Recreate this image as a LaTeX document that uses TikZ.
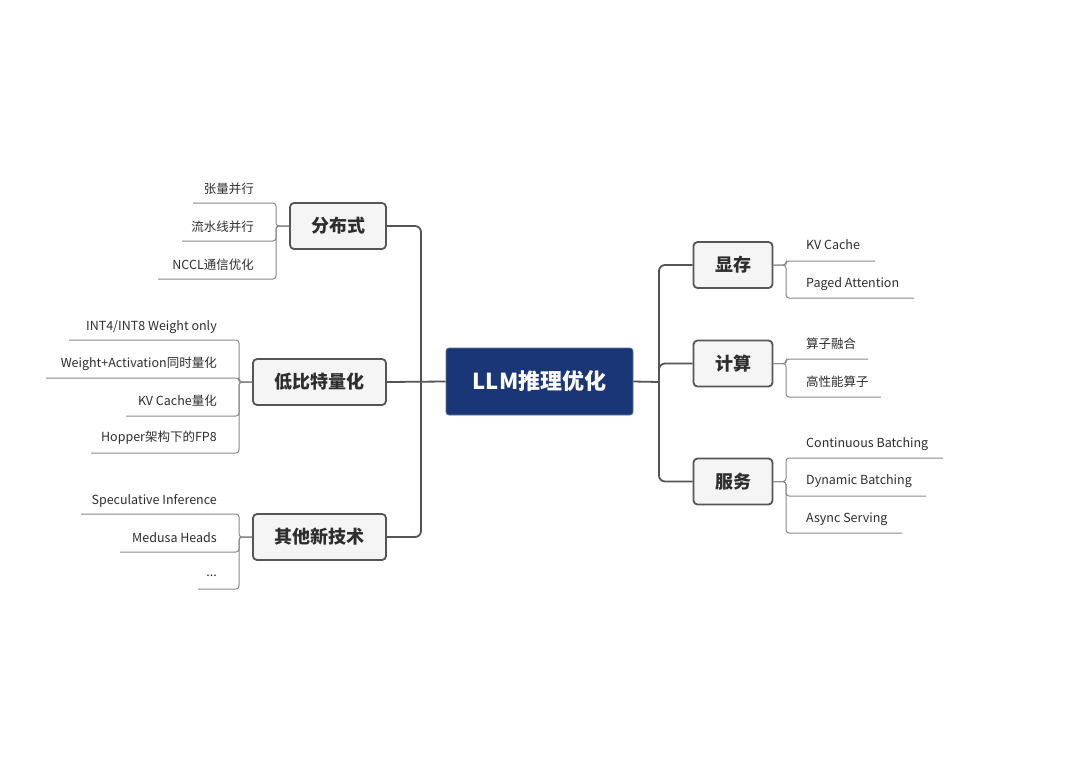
\documentclass[tikz,border=0pt]{standalone}
\usepackage{fontspec}
\setmainfont{Noto Sans CJK SC}
\definecolor{rootblue}{HTML}{1A3677}
\definecolor{boxline}{HTML}{555555}
\definecolor{boxfill}{HTML}{F5F5F5}
\definecolor{leafgray}{HTML}{8A8A8A}
\definecolor{textcol}{HTML}{2E2E2E}
\begin{document}
\begin{tikzpicture}[x=1pt,y=-1pt,
 root/.style={draw=rootblue!70!white, fill=rootblue, rounded corners=3pt, text=white,
   font=\fontsize{22}{26}\selectfont\bfseries, minimum width=187pt, minimum height=67pt, line width=0.8pt, inner sep=0pt},
 branch/.style={draw=boxline, fill=boxfill, rounded corners=4pt, line width=1.8pt,
   font=\fontsize{18}{22}\selectfont\bfseries, minimum height=46pt, text=textcol, inner sep=0pt},
 leaf/.style={font=\fontsize{12.5}{15}\selectfont, text=textcol, inner sep=0pt},
 mainline/.style={draw=boxline, line width=1.8pt, rounded corners=6pt},
 leafline/.style={draw=leafgray, line width=1pt, rounded corners=3pt},
]
\useasboundingbox[fill=white] (0,0) rectangle (1080,764);

% root and branches
\node[root] (root) at (539.5,381.5) {LLM推理优化};
\node[branch, minimum width=96pt] (fb) at (338,226) {分布式};
\node[branch, minimum width=133pt] (db) at (319.5,382) {低比特量化};
\node[branch, minimum width=133pt] (qt) at (319.5,537) {其他新技术};
\node[branch, minimum width=79pt] (xc) at (733,265) {显存};
\node[branch, minimum width=79pt] (js) at (733,363.5) {计算};
\node[branch, minimum width=79pt] (fw) at (733,481.5) {服务};

% main connectors
\coordinate (ls) at (421,382);
\coordinate (rs) at (659,382);
\draw[mainline] (root.west) -- (db.east);
\draw[mainline] (fb.east) -| (ls) |- (qt.east);
\draw[mainline] (root.east) -- (rs);
\draw[mainline] (xc.west) -| (rs) |- (fw.west);
\draw[mainline] (rs) |- (js.west);

% ---- 分布式 leaves
\coordinate (fbj) at (276,226);
\node[leaf, anchor=east] (f1) at (254,189) {张量并行};
\node[leaf, anchor=east] (f2) at (254,227) {流水线并行};
\node[leaf, anchor=east] (f3) at (254,265) {NCCL通信优化};
\coordinate (f1u) at (193,203);
\coordinate (f2u) at (182,241);
\coordinate (f3u) at (158,279);
\draw[leafline] (fb.west) -- (fbj) |- (f1u);
\draw[leafline] (fb.west) -- (fbj) |- (f2u);
\draw[leafline] (fb.west) -- (fbj) |- (f3u);

% ---- 低比特量化 leaves
\coordinate (dbj) at (239,382);
\node[leaf, anchor=east] (d1) at (217,327) {INT4/INT8 Weight only};
\node[leaf, anchor=east] (d2) at (217,364) {Weight+Activation同时量化};
\node[leaf, anchor=east] (d3) at (217,401) {KV Cache量化};
\node[leaf, anchor=east] (d4) at (217,438) {Hopper架构下的FP8};
\coordinate (d1u) at (69,340);
\coordinate (d2u) at (46,378);
\coordinate (d3u) at (126,416);
\coordinate (d4u) at (91,453);
\draw[leafline] (db.west) -- (dbj) |- (d1u);
\draw[leafline] (db.west) -- (dbj) |- (d2u);
\draw[leafline] (db.west) -- (dbj) |- (d3u);
\draw[leafline] (db.west) -- (dbj) |- (d4u);

% ---- 其他新技术 leaves
\coordinate (qtj) at (239,537);
\node[leaf, anchor=east] (q1) at (217,501) {Speculative Inference};
\node[leaf, anchor=east] (q2) at (217,538) {Medusa Heads};
\node[leaf, anchor=east] (q3) at (217,576) {...};
\coordinate (q1u) at (81,514);
\coordinate (q2u) at (120,552);
\coordinate (q3u) at (198,589);
\draw[leafline] (qt.west) -- (qtj) |- (q1u);
\draw[leafline] (qt.west) -- (qtj) |- (q2u);
\draw[leafline] (qt.west) -- (qtj) |- (q3u);

% ---- 显存 leaves
\coordinate (xcj) at (786,265);
\node[leaf, anchor=west] (x1) at (806,245) {KV Cache};
\node[leaf, anchor=west] (x2) at (806,284) {Paged Attention};
\coordinate (x1u) at (875,261);
\coordinate (x2u) at (914,298);
\draw[leafline] (xc.east) -- (xcj) |- (x1u);
\draw[leafline] (xc.east) -- (xcj) |- (x2u);

% ---- 计算 leaves
\coordinate (jsj) at (786,363.5);
\node[leaf, anchor=west] (j1) at (806,344) {算子融合};
\node[leaf, anchor=west] (j2) at (806,382) {高性能算子};
\coordinate (j1u) at (868,359);
\coordinate (j2u) at (881,397);
\draw[leafline] (js.east) -- (jsj) |- (j1u);
\draw[leafline] (js.east) -- (jsj) |- (j2u);

% ---- 服务 leaves
\coordinate (fwj) at (786,481.5);
\node[leaf, anchor=west] (w1) at (806,444) {Continuous Batching};
\node[leaf, anchor=west] (w2) at (806,481) {Dynamic Batching};
\node[leaf, anchor=west] (w3) at (806,519) {Async Serving};
\coordinate (w1u) at (943,458);
\coordinate (w2u) at (926,496);
\coordinate (w3u) at (902,533);
\draw[leafline] (fw.east) -- (fwj) |- (w1u);
\draw[leafline] (fw.east) -- (fwj) |- (w2u);
\draw[leafline] (fw.east) -- (fwj) |- (w3u);
\end{tikzpicture}
\end{document}
